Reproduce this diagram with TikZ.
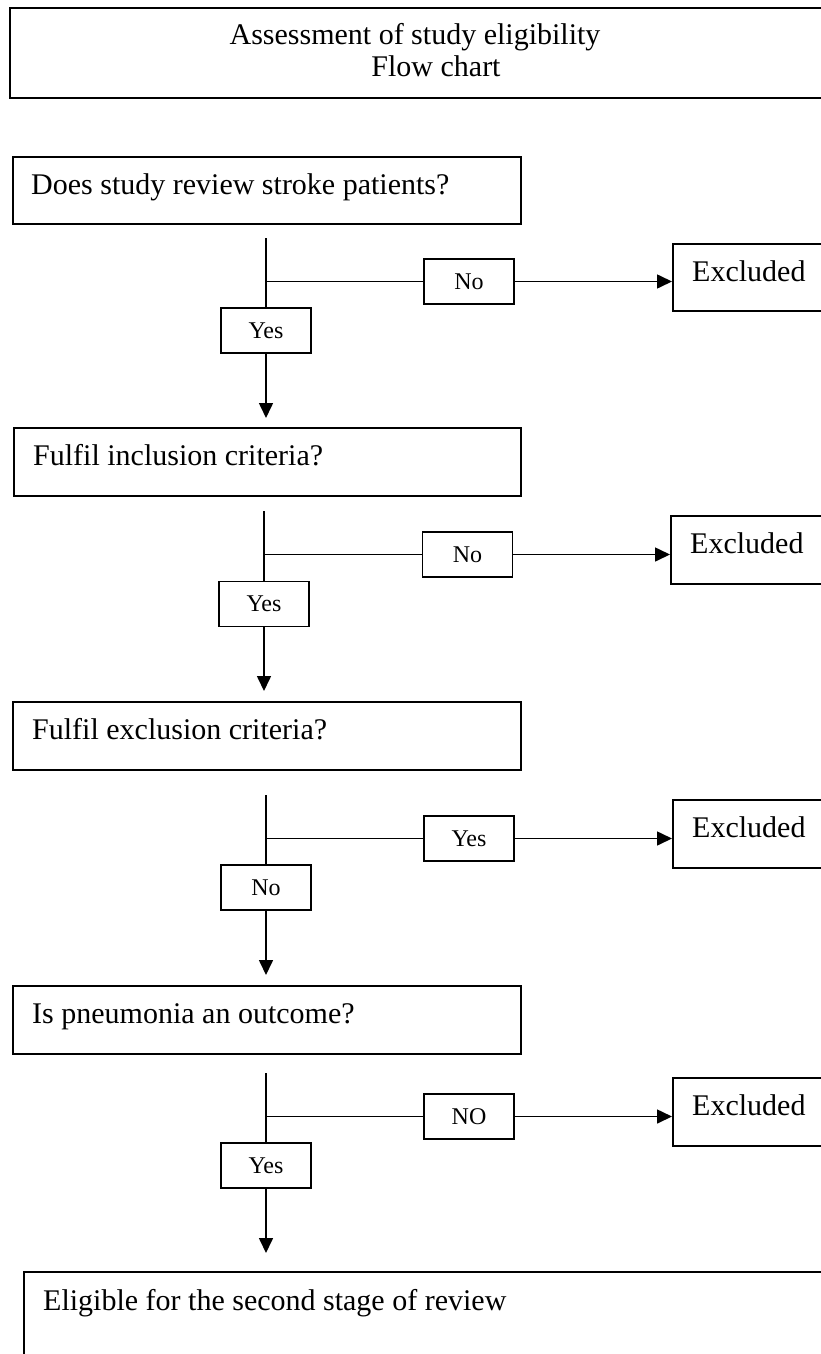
\documentclass[tikz,border=0pt]{standalone}
\usepackage{fontspec}
\setmainfont{Liberation Serif}
\usetikzlibrary{arrows.meta,calc}
\begin{document}
\begin{tikzpicture}[x=1pt,y=-1pt,
  box/.style={draw,line width=1.8pt,anchor=north west,inner sep=0pt},
  txt/.style={anchor=base west,inner sep=0pt,font=\fontsize{30}{34}\selectfont},
  lbl/.style={draw,line width=1.6pt,minimum width=90pt,minimum height=45pt,inner sep=0pt,font=\fontsize{24}{28}\selectfont},
  conn/.style={line width=1.6pt},
  arr/.style={conn,-{Triangle[length=15pt,width=14pt]}}]
\useasboundingbox (0,0) rectangle (821,1354);
\clip (0,0) rectangle (821,1354);
\fill[white] (0,0) rectangle (821,1354);

% title
\node[box,minimum width=840pt,minimum height=90pt] (title) at (9,7) {};
\node[txt,anchor=base] (title1) at (415,45) {Assessment of study eligibility};
\node[txt,anchor=base] (title2) at (436,76) {Flow chart};

% section 1
\node[box,minimum width=508pt,minimum height=67pt] (b1) at (12,156) {};
\node[txt] (t1) at ($(b1.north west)+(19,38)$) {Does study review stroke patients?};
\node[lbl] (n1) at (469,281.5) {No};
\node[lbl] (y1) at (266,330.5) {Yes};
\node[box,minimum width=170pt,minimum height=67pt] (e1) at (672,243) {};
\node[txt] (et1) at ($(e1.north west)+(20,38)$) {Excluded};
\coordinate (v1) at (266,238);
\coordinate (a1) at (266,418);
\draw[conn] (v1) -- (y1.north);
\draw[conn] (v1 |- n1) -- (n1.west);
\draw[arr] (n1.east) -- (e1.west |- n1);
\draw[arr] (y1.south) -- (a1);

% section 2
\node[box,minimum width=507pt,minimum height=68pt] (b2) at (13,427) {};
\node[txt] (t2) at ($(b2.north west)+(20,38)$) {Fulfil inclusion criteria?};
\node[lbl] (n2) at (467.5,554.5) {No};
\node[lbl] (y2) at (264,604) {Yes};
\node[box,minimum width=170pt,minimum height=68pt] (e2) at (670,515) {};
\node[txt] (et2) at ($(e2.north west)+(20,38)$) {Excluded};
\coordinate (v2) at (264,511);
\coordinate (a2) at (264,691);
\draw[conn] (v2) -- (y2.north);
\draw[conn] (v2 |- n2) -- (n2.west);
\draw[arr] (n2.east) -- (e2.west |- n2);
\draw[arr] (y2.south) -- (a2);

% section 3
\node[box,minimum width=508pt,minimum height=68pt] (b3) at (12,701) {};
\node[txt] (t3) at ($(b3.north west)+(20,38)$) {Fulfil exclusion criteria?};
\node[lbl] (n3) at (469,838.5) {Yes};
\node[lbl] (y3) at (266,887.5) {No};
\node[box,minimum width=170pt,minimum height=68pt] (e3) at (672,799) {};
\node[txt] (et3) at ($(e3.north west)+(20,38)$) {Excluded};
\coordinate (v3) at (266,795);
\coordinate (a3) at (266,975);
\draw[conn] (v3) -- (y3.north);
\draw[conn] (v3 |- n3) -- (n3.west);
\draw[arr] (n3.east) -- (e3.west |- n3);
\draw[arr] (y3.south) -- (a3);

% section 4
\node[box,minimum width=508pt,minimum height=68pt] (b4) at (12,985) {};
\node[txt] (t4) at ($(b4.north west)+(20,38)$) {Is pneumonia an outcome?};
\node[lbl] (n4) at (469,1116.5) {NO};
\node[lbl] (y4) at (266,1165.5) {Yes};
\node[box,minimum width=170pt,minimum height=68pt] (e4) at (672,1077) {};
\node[txt] (et4) at ($(e4.north west)+(20,38)$) {Excluded};
\coordinate (v4) at (266,1073);
\coordinate (a4) at (266,1253);
\draw[conn] (v4) -- (y4.north);
\draw[conn] (v4 |- n4) -- (n4.west);
\draw[arr] (n4.east) -- (e4.west |- n4);
\draw[arr] (y4.south) -- (a4);

% final
\node[box,minimum width=830pt,minimum height=120pt] (b5) at (23,1271) {};
\node[txt] (t5) at ($(b5.north west)+(20,39)$) {Eligible for the second stage of review};
\end{tikzpicture}
\end{document}
